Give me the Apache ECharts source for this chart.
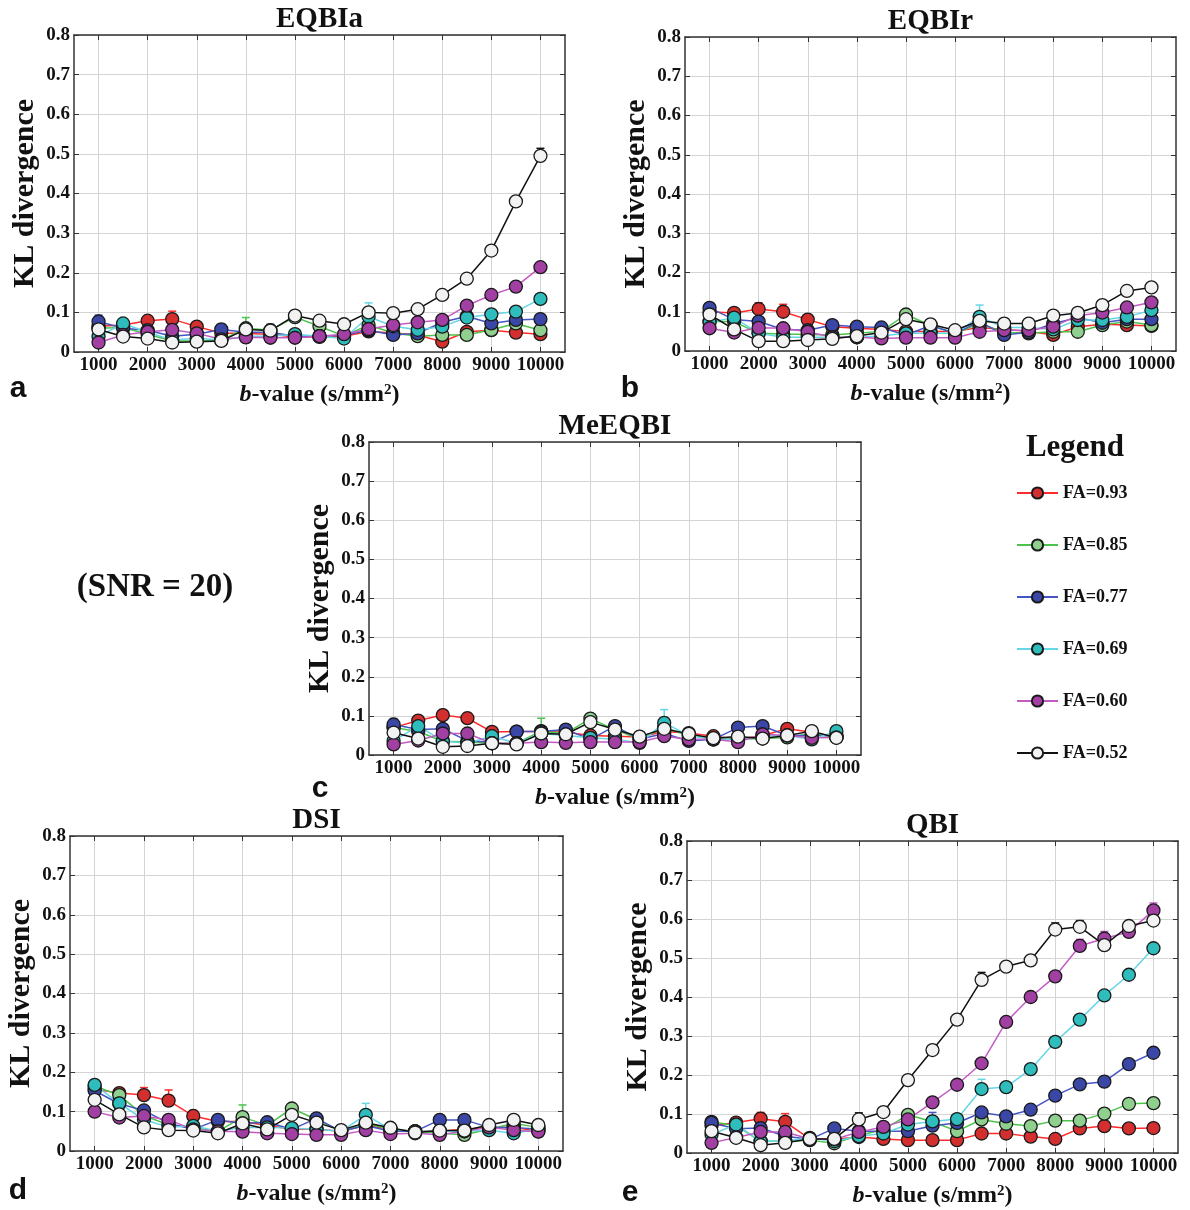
<!DOCTYPE html>
<html>
<head>
<meta charset="utf-8">
<script src="https://cdn.jsdelivr.net/npm/echarts@6/dist/echarts.min.js"></script>
<style>
  html, body { margin: 0; padding: 0; background: #fff; }
  #chart { width: 1190px; height: 1210px; }
</style>
</head>
<body>
<div id="chart"></div>
<script>
// b-values sampled by the simulation (s/mm^2)
const bValues = [1000, 1500, 2000, 2500, 3000, 3500, 4000, 4500, 5000, 5500,
                 6000, 6500, 7000, 7500, 8000, 8500, 9000, 9500, 10000];
const bTicks = [1000, 2000, 3000, 4000, 5000, 6000, 7000, 8000, 9000, 10000];
const faLabels = ['FA=0.93', 'FA=0.85', 'FA=0.77', 'FA=0.69', 'FA=0.60', 'FA=0.52'];
const panelTitles = ['EQBIa', 'EQBIr', 'MeEQBI', 'DSI', 'QBI'];

// KL divergence per FA (rows follow faLabels), SNR = 20
const klEQBIa = [
  [0.065, 0.068, 0.079, 0.083, 0.064, 0.048, 0.047, 0.045, 0.038, 0.038, 0.040, 0.052, 0.048, 0.043, 0.026, 0.051, 0.055, 0.049, 0.045],
  [0.060, 0.062, 0.045, 0.028, 0.028, 0.030, 0.060, 0.055, 0.088, 0.065, 0.040, 0.068, 0.048, 0.040, 0.043, 0.043, 0.056, 0.072, 0.055],
  [0.077, 0.060, 0.055, 0.040, 0.045, 0.057, 0.050, 0.050, 0.040, 0.040, 0.042, 0.055, 0.043, 0.047, 0.075, 0.090, 0.072, 0.081, 0.083],
  [0.039, 0.072, 0.050, 0.030, 0.035, 0.030, 0.040, 0.040, 0.045, 0.040, 0.034, 0.089, 0.065, 0.056, 0.064, 0.087, 0.095, 0.102, 0.134],
  [0.024, 0.043, 0.051, 0.056, 0.047, 0.032, 0.037, 0.036, 0.036, 0.040, 0.045, 0.058, 0.068, 0.075, 0.081, 0.117, 0.144, 0.165, 0.214],
  [0.057, 0.039, 0.034, 0.024, 0.026, 0.028, 0.057, 0.054, 0.092, 0.079, 0.070, 0.100, 0.098, 0.108, 0.144, 0.185, 0.256, 0.380, 0.495]
];
const klEQBIr = [
  [0.100, 0.097, 0.107, 0.100, 0.080, 0.062, 0.058, 0.055, 0.050, 0.050, 0.050, 0.060, 0.055, 0.050, 0.041, 0.062, 0.068, 0.066, 0.064],
  [0.075, 0.075, 0.045, 0.043, 0.042, 0.041, 0.045, 0.050, 0.093, 0.065, 0.045, 0.070, 0.048, 0.045, 0.049, 0.049, 0.066, 0.075, 0.066],
  [0.110, 0.080, 0.075, 0.055, 0.053, 0.066, 0.062, 0.060, 0.040, 0.065, 0.045, 0.075, 0.041, 0.048, 0.070, 0.085, 0.072, 0.081, 0.081],
  [0.073, 0.085, 0.045, 0.035, 0.035, 0.035, 0.035, 0.038, 0.045, 0.045, 0.045, 0.087, 0.060, 0.060, 0.055, 0.079, 0.079, 0.087, 0.104],
  [0.058, 0.047, 0.059, 0.058, 0.049, 0.035, 0.035, 0.032, 0.034, 0.034, 0.034, 0.049, 0.053, 0.053, 0.062, 0.090, 0.098, 0.111, 0.124],
  [0.093, 0.055, 0.025, 0.025, 0.028, 0.031, 0.038, 0.047, 0.081, 0.068, 0.053, 0.077, 0.070, 0.070, 0.090, 0.097, 0.117, 0.153, 0.162]
];
const klMeEQBI = [
  [0.070, 0.088, 0.102, 0.094, 0.059, 0.060, 0.060, 0.058, 0.050, 0.048, 0.046, 0.060, 0.056, 0.048, 0.040, 0.050, 0.067, 0.058, 0.045],
  [0.070, 0.060, 0.035, 0.033, 0.030, 0.030, 0.061, 0.055, 0.093, 0.065, 0.040, 0.070, 0.050, 0.042, 0.040, 0.042, 0.045, 0.055, 0.045],
  [0.078, 0.065, 0.067, 0.036, 0.033, 0.060, 0.060, 0.065, 0.040, 0.074, 0.040, 0.055, 0.036, 0.040, 0.070, 0.074, 0.050, 0.050, 0.050],
  [0.036, 0.074, 0.036, 0.030, 0.048, 0.030, 0.055, 0.050, 0.044, 0.040, 0.031, 0.082, 0.050, 0.040, 0.040, 0.048, 0.050, 0.040, 0.061],
  [0.027, 0.037, 0.055, 0.055, 0.030, 0.030, 0.033, 0.031, 0.033, 0.033, 0.033, 0.048, 0.040, 0.040, 0.033, 0.053, 0.050, 0.044, 0.045],
  [0.057, 0.042, 0.021, 0.023, 0.030, 0.027, 0.055, 0.053, 0.084, 0.065, 0.047, 0.067, 0.054, 0.043, 0.047, 0.042, 0.050, 0.061, 0.044]
];
const klDSI = [
  [0.157, 0.147, 0.142, 0.128, 0.089, 0.075, 0.075, 0.065, 0.055, 0.055, 0.050, 0.065, 0.055, 0.050, 0.050, 0.055, 0.060, 0.060, 0.050],
  [0.165, 0.142, 0.090, 0.066, 0.060, 0.050, 0.086, 0.065, 0.108, 0.080, 0.050, 0.070, 0.055, 0.050, 0.045, 0.041, 0.055, 0.070, 0.060],
  [0.153, 0.120, 0.103, 0.070, 0.055, 0.079, 0.070, 0.073, 0.055, 0.083, 0.050, 0.065, 0.050, 0.050, 0.079, 0.079, 0.060, 0.060, 0.055],
  [0.168, 0.121, 0.080, 0.060, 0.064, 0.050, 0.060, 0.060, 0.058, 0.055, 0.050, 0.092, 0.055, 0.050, 0.050, 0.050, 0.053, 0.045, 0.055],
  [0.100, 0.085, 0.089, 0.079, 0.055, 0.050, 0.049, 0.045, 0.043, 0.041, 0.041, 0.053, 0.043, 0.045, 0.041, 0.050, 0.060, 0.053, 0.049],
  [0.130, 0.093, 0.060, 0.053, 0.052, 0.045, 0.070, 0.055, 0.092, 0.072, 0.053, 0.072, 0.059, 0.047, 0.052, 0.052, 0.066, 0.079, 0.066]
];
const klQBI = [
  [0.070, 0.078, 0.088, 0.080, 0.036, 0.035, 0.041, 0.036, 0.033, 0.033, 0.033, 0.050, 0.050, 0.042, 0.036, 0.063, 0.069, 0.063, 0.064],
  [0.080, 0.070, 0.030, 0.030, 0.033, 0.025, 0.045, 0.060, 0.098, 0.080, 0.056, 0.086, 0.075, 0.069, 0.083, 0.083, 0.101, 0.126, 0.128],
  [0.077, 0.062, 0.064, 0.043, 0.035, 0.063, 0.056, 0.056, 0.056, 0.070, 0.077, 0.104, 0.094, 0.111, 0.147, 0.176, 0.183, 0.228, 0.257],
  [0.047, 0.073, 0.030, 0.030, 0.039, 0.030, 0.043, 0.050, 0.073, 0.081, 0.087, 0.164, 0.169, 0.215, 0.285, 0.342, 0.404, 0.457, 0.525],
  [0.026, 0.040, 0.054, 0.054, 0.036, 0.035, 0.054, 0.067, 0.086, 0.130, 0.175, 0.230, 0.336, 0.400, 0.453, 0.531, 0.550, 0.567, 0.622],
  [0.056, 0.039, 0.020, 0.026, 0.036, 0.036, 0.086, 0.105, 0.187, 0.264, 0.342, 0.444, 0.478, 0.494, 0.573, 0.580, 0.533, 0.582, 0.596]
];

// Upper error whiskers: [FA row, b-value, upper KL]
const errEQBIa = [[2, 1000, 0.093], [2, 1500, 0.070], [0, 2000, 0.090], [0, 2500, 0.103], [2, 3500, 0.070],
                  [1, 4000, 0.087], [2, 4500, 0.070], [3, 6500, 0.124], [5, 10000, 0.514]];
const errEQBIr = [[2, 1000, 0.115], [0, 2000, 0.123], [2, 2000, 0.085], [0, 2500, 0.119], [2, 5500, 0.078], [3, 6500, 0.117]];
const errMeEQBI = [[2, 1000, 0.093], [0, 2000, 0.116], [0, 2500, 0.108], [2, 3500, 0.068], [1, 4000, 0.094],
                   [2, 4500, 0.072], [2, 5500, 0.080], [3, 6500, 0.116]];
const errDSI = [[0, 2000, 0.161], [0, 2500, 0.155], [0, 3000, 0.103], [2, 3500, 0.090], [1, 4000, 0.117],
                [2, 4500, 0.082], [2, 5500, 0.090], [3, 6500, 0.121]];
const errQBI = [[2, 1000, 0.093], [0, 2000, 0.104], [0, 2500, 0.101], [2, 3500, 0.070], [5, 4000, 0.103],
                [2, 5500, 0.104], [3, 6500, 0.189], [5, 6500, 0.463], [5, 8000, 0.590], [5, 8500, 0.596],
                [4, 8500, 0.548], [4, 9000, 0.568], [5, 9500, 0.590], [4, 10000, 0.641]];

// ---- styling / layout ----
const SERIF = '"Liberation Serif", "Times New Roman", serif';
const SANS = '"Liberation Sans", Arial, sans-serif';
const lineColors = ['#ff2a2a', '#4cc34c', '#4655c4', '#66d6e6', '#c45ac4', '#111111'];
const fillColors = ['#d42f2f', '#8fd08f', '#3a47a6', '#2fbcbc', '#a23fa3', '#f2f2f2'];
const frameColor = '#333333';
const gridColor = '#d4d4d4';

const panels = [
  { title: panelTitles[0], letter: 'a', data: klEQBIa, err: errEQBIa, box: { left: 74,  top: 35,  width: 491, height: 317 }, lx: 18,  ly: 389 },
  { title: panelTitles[1], letter: 'b', data: klEQBIr, err: errEQBIr, box: { left: 685, top: 37,  width: 491, height: 314 }, lx: 630, ly: 389 },
  { title: panelTitles[2], letter: 'c', data: klMeEQBI, err: errMeEQBI, box: { left: 369, top: 442, width: 492, height: 313 }, lx: 320, ly: 789 },
  { title: panelTitles[3], letter: 'd', data: klDSI, err: errDSI, box: { left: 70,  top: 836, width: 493, height: 315 }, lx: 18,  ly: 1191 },
  { title: panelTitles[4], letter: 'e', data: klQBI, err: errQBI, box: { left: 687, top: 841, width: 491, height: 312 }, lx: 630, ly: 1193 }
];

const labelFont = { fontFamily: SERIF, fontWeight: 'bold', fontSize: 19, color: '#111' };

const grids = [], xAxes = [], yAxes = [], series = [], graphics = [];

panels.forEach((p, gi) => {
  grids.push({ left: p.box.left, top: p.box.top, width: p.box.width, height: p.box.height, containLabel: false });

  // bottom x axis with labels
  xAxes.push({
    type: 'value', gridIndex: gi, position: 'bottom', min: 500, max: 10500,
    axisLine: { onZero: false, lineStyle: { color: frameColor, width: 1.5 } },
    axisTick: { inside: true, length: 5, customValues: bTicks, lineStyle: { color: frameColor, width: 1 } },
    axisLabel: Object.assign({ customValues: bTicks, margin: 4, formatter: v => String(v) }, labelFont),
    splitLine: { show: true, lineStyle: { color: gridColor, width: 1 } },
    name: '{i|b}-value (s/mm{s|2})',
    nameLocation: 'middle', nameGap: 31,
    nameTextStyle: {
      fontFamily: SERIF, fontWeight: 'bold', fontSize: 24, color: '#111',
      rich: {
        i: { fontFamily: SERIF, fontWeight: 'bold', fontStyle: 'italic', fontSize: 24, color: '#111' },
        s: { fontFamily: SERIF, fontWeight: 'bold', fontSize: 15, color: '#111', verticalAlign: 'top' }
      }
    }
  });
  // top frame edge
  xAxes.push({
    type: 'value', gridIndex: gi, position: 'top', min: 500, max: 10500,
    axisLine: { onZero: false, lineStyle: { color: frameColor, width: 1.5 } },
    axisTick: { inside: true, length: 5, customValues: bTicks, lineStyle: { color: frameColor, width: 1 } },
    axisLabel: { show: false }, splitLine: { show: false }
  });
  // left y axis with labels
  yAxes.push({
    type: 'value', gridIndex: gi, position: 'left', min: 0, max: 0.8, interval: 0.1,
    axisLine: { show: true, onZero: false, lineStyle: { color: frameColor, width: 1.5 } },
    axisTick: { show: true, inside: true, length: 5, lineStyle: { color: frameColor, width: 1 } },
    axisLabel: Object.assign({ margin: 4, formatter: v => (v === 0 ? '0' : v.toFixed(1)) }, labelFont),
    splitLine: { show: true, lineStyle: { color: gridColor, width: 1 } },
    name: 'KL divergence', nameLocation: 'middle', nameRotate: 90, nameGap: 34,
    nameTextStyle: { fontFamily: SERIF, fontWeight: 'bold', fontSize: 30, color: '#111' }
  });
  // right frame edge
  yAxes.push({
    type: 'value', gridIndex: gi, position: 'right', min: 0, max: 0.8, interval: 0.1,
    axisLine: { show: true, onZero: false, lineStyle: { color: frameColor, width: 1.5 } },
    axisTick: { show: true, inside: true, length: 5, lineStyle: { color: frameColor, width: 1 } },
    axisLabel: { show: false }, splitLine: { show: false }
  });

  // upper error whiskers, drawn beneath the markers
  series.push({
    type: 'custom', xAxisIndex: 2 * gi, yAxisIndex: 2 * gi, z: 1, silent: true,
    data: p.err.map(e => [e[1], p.data[e[0]][bValues.indexOf(e[1])], e[2], e[0]]),
    renderItem: (params, api) => {
      const lo = api.coord([api.value(0), api.value(1)]);
      const hi = api.coord([api.value(0), api.value(2)]);
      const c = lineColors[api.value(3)];
      return {
        type: 'group',
        children: [
          { type: 'line', shape: { x1: lo[0], y1: lo[1], x2: hi[0], y2: hi[1] }, style: { stroke: c, lineWidth: 1.5 } },
          { type: 'line', shape: { x1: hi[0] - 4, y1: hi[1], x2: hi[0] + 4, y2: hi[1] }, style: { stroke: c, lineWidth: 1.5 } }
        ]
      };
    }
  });

  p.data.forEach((row, s) => {
    series.push({
      type: 'line', name: faLabels[s], xAxisIndex: 2 * gi, yAxisIndex: 2 * gi, z: 2,
      data: bValues.map((b, k) => [b, row[k]]),
      symbol: 'circle', symbolSize: 13, showAllSymbol: true,
      lineStyle: { color: lineColors[s], width: 1.5 },
      itemStyle: { color: fillColors[s], borderColor: '#1a1a1a', borderWidth: 1.3 },
      emphasis: { disabled: true }
    });
  });

  // panel title and letter
  graphics.push({
    type: 'text',
    x: p.box.left + p.box.width / 2, y: p.box.top - 15,
    style: { text: p.title, font: 'bold 29px ' + SERIF, fill: '#111', align: 'center', verticalAlign: 'middle' }
  });
  graphics.push({
    type: 'text', x: p.lx, y: p.ly,
    style: { text: p.letter, font: 'bold 30px ' + SANS, fill: '#111', align: 'center', verticalAlign: 'middle' }
  });
});

graphics.push({
  type: 'text', x: 155, y: 587,
  style: { text: '(SNR = 20)', font: 'bold 33px ' + SERIF, fill: '#111', align: 'center', verticalAlign: 'middle' }
});
graphics.push({
  type: 'text', x: 1075, y: 448,
  style: { text: 'Legend', font: 'bold 31px ' + SERIF, fill: '#111', align: 'center', verticalAlign: 'middle' }
});

const chart = echarts.init(document.getElementById('chart'), null, { renderer: 'canvas' });
chart.setOption({
  animation: false,
  backgroundColor: '#fff',
  grid: grids,
  xAxis: xAxes,
  yAxis: yAxes,
  legend: {
    data: faLabels, orient: 'vertical', left: 1011, top: 479,
    itemWidth: 41, itemHeight: 14, itemGap: 34, itemSymbolSize: 13, selectedMode: false,
    textStyle: { fontFamily: SERIF, fontWeight: 'bold', fontSize: 18, color: '#111' }
  },
  graphic: graphics,
  series: series
});
</script>
</body>
</html>
